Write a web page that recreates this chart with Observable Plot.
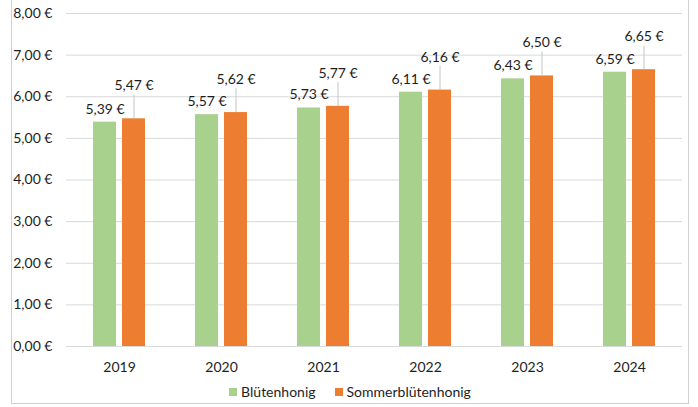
<!DOCTYPE html>
<html>
<head>
<meta charset="utf-8">
<script src="https://cdn.jsdelivr.net/npm/d3@7"></script>
<script src="https://cdn.jsdelivr.net/npm/@observablehq/plot@0.6"></script>
<style>
  html, body { margin: 0; padding: 0; background: #fff; }
  #wrap { position: relative; width: 698px; height: 407px; overflow: hidden; font-family: Lato, "Open Sans", sans-serif; }
  #frame { position: absolute; left: 11px; top: -2px; width: 678px; height: 406px; border: 1px solid #d0d0d0; box-sizing: border-box; pointer-events: none; }
  #chart { position: absolute; left: 0; top: 0; }
  #legend { position: absolute; left: 0; top: 383px; width: 698px; display: flex; justify-content: center; gap: 19px; font-size: 14px; color: #1e1e1e; padding-left: 2px; box-sizing: border-box; }
  #legend span.item { display: inline-flex; align-items: center; }
  #legend span.sw { display: inline-block; width: 8px; height: 8px; margin-right: 4px; }
</style>
</head>
<body>
<div id="wrap">
  <div id="chart"></div>
  <div id="legend"></div>
  <div id="frame"></div>
</div>
<script>
const years = ["2019", "2020", "2021", "2022", "2023", "2024"];
const seriesNames = ["Blütenhonig", "Sommerblütenhonig"];
const bluetenhonig = [5.39, 5.57, 5.73, 6.11, 6.43, 6.59];
const sommerbluetenhonig = [5.47, 5.62, 5.77, 6.16, 6.50, 6.65];
const yTicks = [0, 1, 2, 3, 4, 5, 6, 7, 8];
const colors = ["#A9D18E", "#ED7D31"];

const fmt = v => v.toFixed(2).replace(".", ",") + " €";
const green = years.map((y, i) => ({year: y, value: bluetenhonig[i]}));
const orange = years.map((y, i) => ({year: y, value: sommerbluetenhonig[i]}));
const textColor = "#1e1e1e";

const plot = Plot.plot({
  width: 698,
  height: 380,
  marginLeft: 66,
  marginRight: 16,
  marginTop: 13,
  marginBottom: 34,
  style: {fontFamily: "Lato, 'Open Sans', sans-serif", fontSize: "14px", color: textColor, background: "transparent"},
  x: {type: "band", domain: years, paddingInner: 0.494, paddingOuter: 0.247, label: null},
  y: {domain: [0, 8], label: null},
  marks: [
    Plot.gridY(yTicks, {stroke: "#d9d9d9", strokeOpacity: 1}),
    Plot.barY(green, {x: "year", y: "value", fill: colors[0], insetRight: 29}),
    Plot.barY(orange, {x: "year", y: "value", fill: colors[1], insetLeft: 29}),
    Plot.ruleX(orange, {x: "year", y1: "value", y2: d => d.value + 0.57, dx: 14.5, stroke: "#c4c4c4", strokeWidth: 1}),
    Plot.text(green, {x: "year", y: "value", text: d => fmt(d.value), dx: -14.5, dy: -13, fill: textColor, fontSize: 14}),
    Plot.text(orange, {x: "year", y: "value", text: d => fmt(d.value), dx: 14.5, dy: -33, fill: textColor, fontSize: 14}),
    Plot.axisY({ticks: yTicks, tickFormat: fmt, tickSize: 0, tickPadding: 14, fill: textColor}),
    Plot.axisX({tickSize: 0, tickPadding: 16, fill: textColor}),
    Plot.ruleY([0], {stroke: "#d9d9d9"})
  ]
});
document.getElementById("chart").appendChild(plot);

const legend = document.getElementById("legend");
seriesNames.forEach((name, i) => {
  const item = document.createElement("span");
  item.className = "item";
  const sw = document.createElement("span");
  sw.className = "sw";
  sw.style.background = colors[i];
  item.appendChild(sw);
  item.appendChild(document.createTextNode(name));
  legend.appendChild(item);
});
</script>
</body>
</html>
